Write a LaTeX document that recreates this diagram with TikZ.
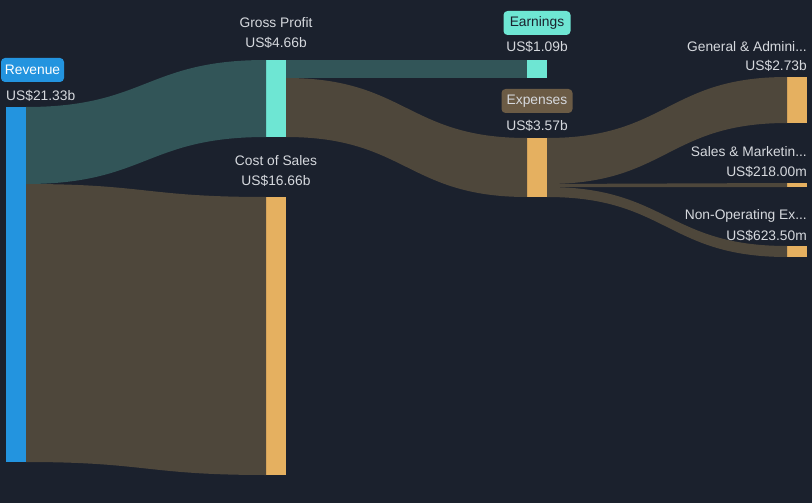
\documentclass[tikz,border=0pt]{standalone}
\usepackage{fontspec}
\setmainfont{Liberation Sans}
\usetikzlibrary{positioning}
\definecolor{bgdark}{HTML}{1B212D}
\definecolor{revblue}{HTML}{2394DF}
\definecolor{profteal}{HTML}{6EE6D3}
\definecolor{flowteal}{HTML}{325558}
\definecolor{flowbrown}{HTML}{4E473B}
\definecolor{costorange}{HTML}{E5B060}
\definecolor{expbox}{HTML}{6B5B45}
\definecolor{txtgray}{HTML}{D6D9DE}

\begin{document}
\begin{tikzpicture}[x=1pt, y=-1pt,
    bar/.style={rectangle, inner sep=0, outer sep=0, minimum width=20, anchor=north west},
    lbl/.style={text=txtgray, font=\fontsize{13.8}{16}\selectfont, inner sep=0},
    tag/.style={rounded corners=4pt, inner sep=0, minimum height=24, font=\fontsize{13.8}{16}\selectfont}]

        \fill[bgdark] (0,0) rectangle (812,503);
        \useasboundingbox (0,0) rectangle (812,503);

        % bars
        \node[bar, fill=revblue, minimum height=355] (rev) at (6,107) {};
        \node[bar, fill=profteal, minimum height=77] (gp) at (266,60) {};
        \node[bar, fill=costorange, minimum height=278] (cos) at (266,197) {};
        \node[bar, fill=profteal, minimum height=18] (earn) at (527,60) {};
        \node[bar, fill=costorange, minimum height=59] (exp) at (527,138) {};
        \node[bar, fill=costorange, minimum height=46] (ga) at (787,77) {};
        \node[bar, fill=costorange, minimum height=4] (sm) at (787,183) {};
        \node[bar, fill=costorange, minimum height=11] (nonop) at (787,246) {};

        % split points
        \coordinate (revsplit) at (26,184);
        \coordinate (gpsplit) at (286,78);
        \coordinate (expsplit1) at (547,184);
        \coordinate (expsplit2) at (547,187);

        % flows
        \fill[flowteal] (rev.north east) .. controls +(120,0) and +(-120,0) .. (gp.north west)
            -- (gp.south west) .. controls +(-120,0) and +(120,0) .. (revsplit) -- cycle;
        \fill[flowbrown] (revsplit) .. controls +(120,0) and +(-120,0) .. (cos.north west)
            -- (cos.south west) .. controls +(-120,0) and +(120,0) .. (rev.south east) -- cycle;
        \fill[flowteal] (gp.north east) -- (earn.north west) -- (earn.south west) -- (gpsplit) -- cycle;
        \fill[flowbrown] (gpsplit) .. controls +(120,0) and +(-120,0) .. (exp.north west)
            -- (exp.south west) .. controls +(-120,0) and +(120,0) .. (gp.south east) -- cycle;
        \fill[flowbrown] (exp.north east) .. controls +(120,0) and +(-120,0) .. (ga.north west)
            -- (ga.south west) .. controls +(-120,0) and +(120,0) .. (expsplit1) -- cycle;
        \fill[flowbrown] (expsplit1) .. controls +(120,0) and +(-120,0) .. (sm.north west)
            -- (sm.south west) .. controls +(-120,0) and +(120,0) .. (expsplit2) -- cycle;
        \fill[flowbrown] (expsplit2) .. controls +(120,0) and +(-120,0) .. (nonop.north west)
            -- (nonop.south west) .. controls +(-120,0) and +(120,0) .. (exp.south east) -- cycle;

        % labels
        \node[tag, fill=revblue, text=white, minimum width=63] (revtag) at (32.5,70) {Revenue};
        \node[lbl, anchor=west] (revval) at (6,96) {US\$21.33b};
        \node[lbl] (gpname) at (276,23) {Gross Profit};
        \node[lbl] (gpval) at (276,43) {US\$4.66b};
        \node[lbl] (cosname) at (276,161) {Cost of Sales};
        \node[lbl] (cosval) at (276,181) {US\$16.66b};
        \node[tag, fill=profteal, text=bgdark, minimum width=67] (earntag) at (537,23) {Earnings};
        \node[lbl] (earnval) at (537,47) {US\$1.09b};
        \node[tag, fill=expbox, text=txtgray, minimum width=71] (exptag) at (537,101) {Expenses};
        \node[lbl] (expval) at (537,126) {US\$3.57b};
        \node[lbl, anchor=east] (ganame) at (807,47) {General \& Admini...};
        \node[lbl, anchor=east] (gaval) at (807,66) {US\$2.73b};
        \node[lbl, anchor=east] (smname) at (807,152) {Sales \& Marketin...};
        \node[lbl, anchor=east] (smval) at (807,172) {US\$218.00m};
        \node[lbl, anchor=east] (nonopname) at (807,216) {Non-Operating Ex...};
        \node[lbl, anchor=east] (nonopval) at (807,236) {US\$623.50m};

      \end{tikzpicture}
\end{document}
